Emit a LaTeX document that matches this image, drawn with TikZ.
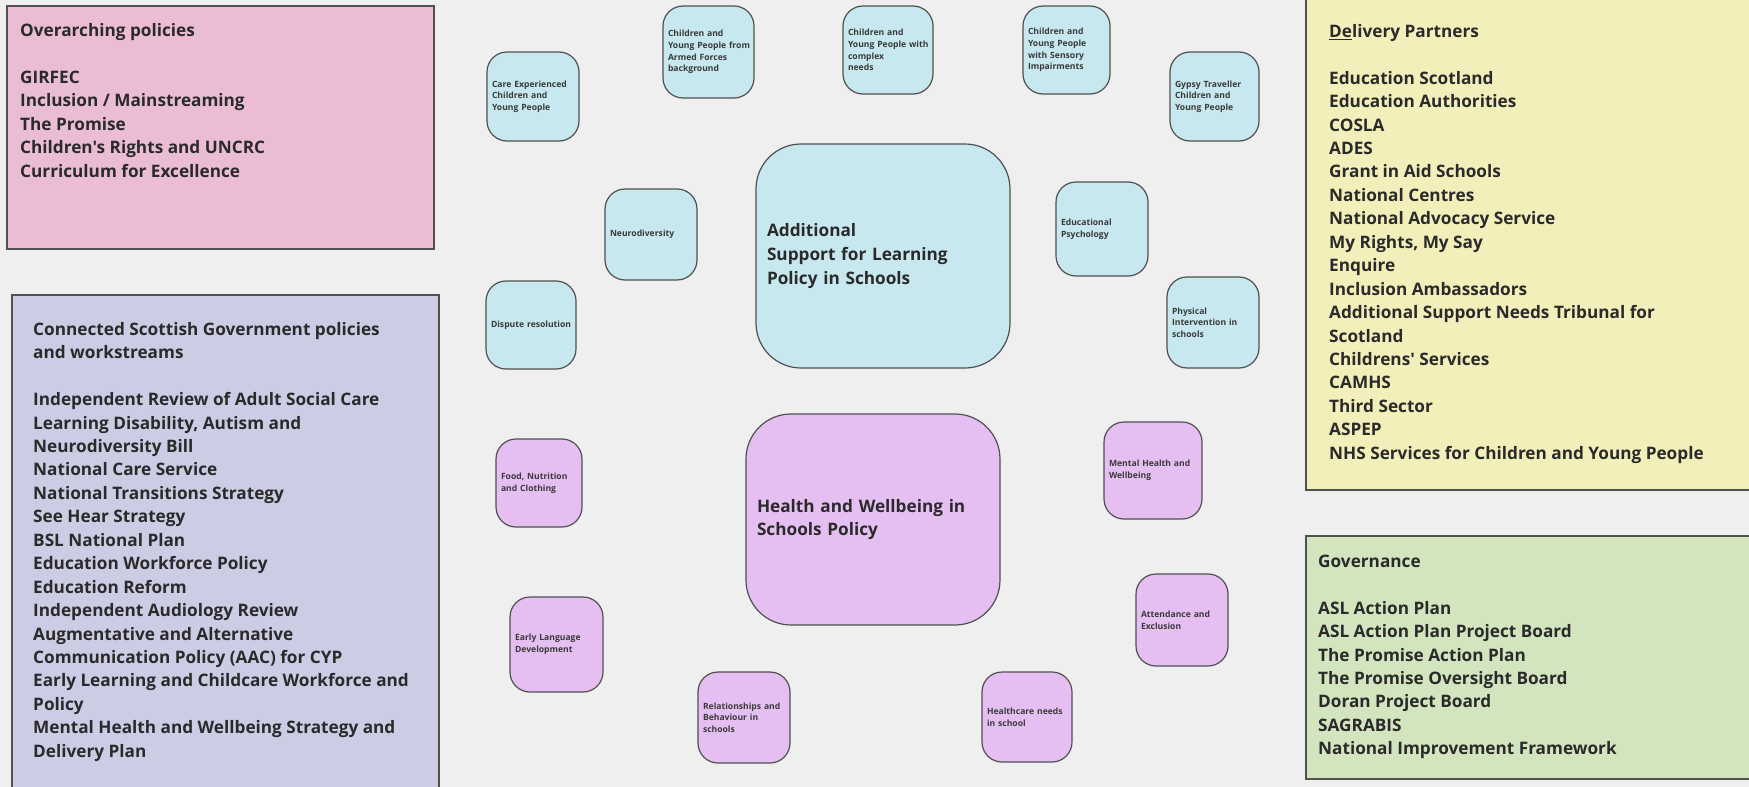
\documentclass[tikz,border=0pt]{standalone}
\usepackage{fontspec}
\setmainfont{Open Sans}
\newfontfamily\osans{Open Sans}
\hyphenpenalty=10000
\exhyphenpenalty=10000
\definecolor{bgc}{HTML}{EFEFEF}
\definecolor{pinkc}{HTML}{EBBDD4}
\definecolor{lavc}{HTML}{CCCDE5}
\definecolor{yelc}{HTML}{F3EFBB}
\definecolor{grnc}{HTML}{D3E5BF}
\definecolor{bluec}{HTML}{C6E8EE}
\definecolor{violc}{HTML}{E6BFF2}
\definecolor{linec}{HTML}{505050}
\definecolor{txtc}{HTML}{2A2A2A}
\definecolor{stxtc}{HTML}{3A3A3A}
\begin{document}
\begin{tikzpicture}[x=1pt,y=-1pt,
  sidebox/.style={draw=linec, line width=1.3pt},
  sidetext/.style={anchor=north west, inner sep=0pt, align=left, text=txtc,
    font=\osans\bfseries\fontsize{17.2}{23.45}\selectfont},
  smallnode/.style={draw=linec, line width=1.2pt, rounded corners=20pt,
    align=left, text=stxtc, inner xsep=5pt, inner ysep=0pt,
    font=\osans\bfseries\fontsize{8.6}{11.7}\selectfont},
  bignode/.style={draw=linec, line width=1.2pt, rounded corners=45pt,
    align=left, text=txtc, inner xsep=11pt, inner ysep=0pt,
    font=\osans\bfseries\fontsize{17.2}{23.6}\selectfont},
  asl/.style={fill=bluec},
  hwb/.style={fill=violc}]
\useasboundingbox (0,0) rectangle (1749,787);
\clip (0,0) rectangle (1749,787);
\fill[bgc] (0,0) rectangle (1749,787);

% side boxes (first baseline minus strut height 16.4)
\draw[sidebox, fill=pinkc] (7,6) rectangle (434,249);
\node[sidetext] (over) at (20,20) {\strut Overarching policies\\[23.45pt]
GIRFEC\\Inclusion / Mainstreaming\\The Promise\\Children's Rights and UNCRC\\Curriculum for Excellence};

\draw[sidebox, fill=lavc] (12,295) rectangle (439,792);
\node[sidetext] (conn) at (33,318.6) {\strut Connected Scottish Government policies\\and workstreams\\[23.45pt]
Independent Review of Adult Social Care\\Learning Disability, Autism and\\Neurodiversity Bill\\National Care Service\\National Transitions Strategy\\See Hear Strategy\\BSL National Plan\\Education Workforce Policy\\Education Reform\\Independent Audiology Review\\Augmentative and Alternative\\Communication Policy (AAC) for CYP\\Early Learning and Childcare Workforce and\\Policy\\Mental Health and Wellbeing Strategy and\\Delivery Plan};

\draw[sidebox, fill=yelc] (1306,-3) rectangle (1753,490);
\node[sidetext] (deliv) at (1329,20.6) {\strut\underline{De}livery Partners\\[23.45pt]
Education Scotland\\Education Authorities\\COSLA\\ADES\\Grant in Aid Schools\\National Centres\\National Advocacy Service\\My Rights, My Say\\Enquire\\Inclusion Ambassadors\\Additional Support Needs Tribunal for\\Scotland\\Childrens' Services\\CAMHS\\Third Sector\\ASPEP\\NHS Services for Children and Young People};

\draw[sidebox, fill=grnc] (1306,536) rectangle (1753,779);
\node[sidetext] (gov) at (1318,550.6) {\strut Governance\\[23.45pt]
ASL Action Plan\\ASL Action Plan Project Board\\The Promise Action Plan\\The Promise Oversight Board\\Doran Project Board\\SAGRABIS\\National Improvement Framework};

% ASL cluster
\node[bignode, asl, minimum height=224pt, text width=232pt] (aslp) at (883,256) {Additional\\Support for Learning\\Policy in Schools};
\node[smallnode, asl, minimum height=89pt, text width=82pt] (care) at (533,96.5) {Care Experienced\\Children and\\Young People};
\node[smallnode, asl, minimum height=92pt, text width=81pt] (armed) at (708.5,52) {Children and\\Young~People~from\\Armed Forces\\background};
\node[smallnode, asl, minimum height=88pt, text width=80pt] (complex) at (888,50) {Children and\\Young~People~with\\complex\\needs};
\node[smallnode, asl, minimum height=88pt, text width=77pt] (sensory) at (1066.5,50) {Children and\\Young People\\with Sensory\\Impairments};
\node[smallnode, asl, minimum height=89pt, text width=79pt] (gypsy) at (1214.5,96.5) {Gypsy Traveller\\Children and\\Young People};
\node[smallnode, asl, minimum height=91pt, text width=82pt] (neuro) at (651,234.5) {Neurodiversity};
\node[smallnode, asl, minimum height=88pt, text width=80pt] (dispute) at (531,325) {Dispute~resolution};
\node[smallnode, asl, minimum height=94pt, text width=82pt] (edpsych) at (1102,229) {Educational\\Psychology};
\node[smallnode, asl, minimum height=91pt, text width=82pt] (phys) at (1213,322.5) {Physical\\Intervention in\\schools};

% HWB cluster
\node[bignode, hwb, minimum height=211pt, text width=232pt] (hwbp) at (873,519.5) {Health and Wellbeing in\\Schools Policy};
\node[smallnode, hwb, minimum height=88pt, text width=76pt] (food) at (539,483) {Food, Nutrition\\and Clothing};
\node[smallnode, hwb, minimum height=95pt, text width=83pt] (early) at (556.5,644.5) {Early Language\\Development};
\node[smallnode, hwb, minimum height=91pt, text width=82pt] (relat) at (744,717.5) {Relationships~and\\Behaviour in\\schools};
\node[smallnode, hwb, minimum height=97pt, text width=88pt] (mental) at (1153,470.5) {Mental Health and\\Wellbeing};
\node[smallnode, hwb, minimum height=92pt, text width=82pt] (attend) at (1182,620) {Attendance and\\Exclusion};
\node[smallnode, hwb, minimum height=90pt, text width=80pt] (hcare) at (1027,717) {Healthcare needs\\in school};
\end{tikzpicture}
\end{document}
